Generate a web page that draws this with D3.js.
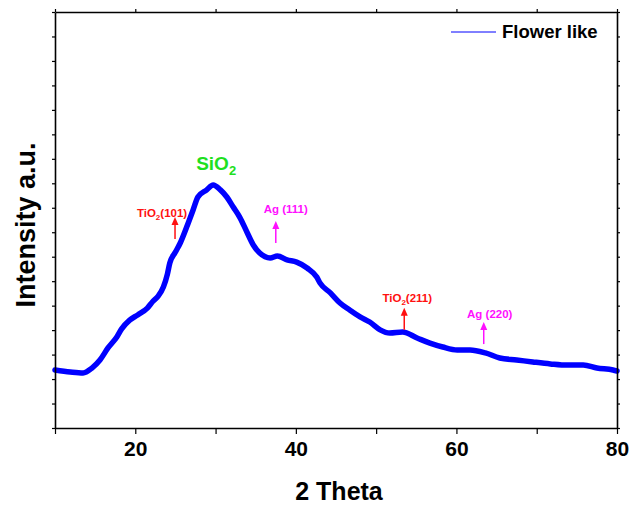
<!DOCTYPE html>
<html>
<head>
<meta charset="utf-8">
<script src="https://cdn.jsdelivr.net/npm/d3@7"></script>
<style>
  body { margin: 0; background: #fff; }
  text { font-family: "Liberation Sans", Arial, sans-serif; font-weight: bold; }
</style>
</head>
<body>
<svg id="chart" width="630" height="506"></svg>
<script>
// 2 theta positions (deg)
var theta = [10.0, 11.9, 13.5, 14.6, 15.6, 16.6, 17.7, 18.3, 19.3, 20.3,
    21.5, 22.2, 22.8, 23.5, 24.0, 24.3, 25.0, 25.6, 26.4, 27.2,
    27.8, 28.9, 29.7, 30.6, 31.4, 32.2, 33.0, 33.9, 34.7, 35.5,
    36.8, 37.7, 38.9, 40.1, 41.4, 42.6, 43.0, 44.3, 45.5, 46.7,
    48.0, 49.2, 50.5, 51.7, 53.3, 55.1, 56.7, 58.3, 60.1, 61.7,
    63.6, 65.4, 67.5, 69.5, 71.7, 73.8, 75.8, 77.5, 79.5, 80.0];

// intensity (a.u.) at each 2 theta
var intensity = [237, 229, 225, 245, 278, 327, 372, 405, 441, 462,
    490, 518, 537, 576, 629, 674, 719, 756, 821, 891,
    944, 973, 993, 973, 944, 903, 862, 801, 748, 715,
    695, 703, 687, 678, 654, 617, 593, 552, 511, 482,
    454, 433, 401, 388, 392, 368, 347, 331, 319, 319,
    307, 286, 278, 270, 262, 257, 257, 245, 237, 233];

// peak markers
var peakNames = ["TiO2(101)", "Ag (111)", "TiO2(211)", "Ag (220)"];
var peakTheta = [24.95, 37.5, 53.5, 63.4];
var peakBase = [772, 756, 401, 343];
var peakPhase = ["TiO2", "Ag", "TiO2", "Ag"];

var xTicks = [10, 20, 30, 40, 50, 60, 70, 80];
var xLabels = [20, 40, 60, 80];

var width = 630, height = 506;
var margin = {top: 12, right: 13, bottom: 78, left: 55};

var svg = d3.select("#chart");

var x = d3.scaleLinear()
    .domain([10, 80])
    .range([margin.left, width - margin.right]);

var y = d3.scaleLinear()
    .domain([0, 1700])
    .range([height - margin.bottom, margin.top]);

var yTicks = d3.range(0, 1701, 100);

var data = theta.map(function (t, i) {
    return {t: t, v: intensity[i]};
});

// the pattern
var line = d3.line()
    .x(function (d) { return x(d.t); })
    .y(function (d) { return y(d.v); })
    .curve(d3.curveMonotoneX);

svg.append("path")
    .datum(data)
    .attr("fill", "none")
    .attr("stroke", "#0000ff")
    .attr("stroke-width", 5.5)
    .attr("stroke-linejoin", "round")
    .attr("stroke-linecap", "round")
    .attr("d", line);

// axes (frame on all four sides)
function styleAxis(g) {
    g.select(".domain").attr("stroke", "#000").attr("stroke-width", 1.6);
    g.selectAll(".tick line").attr("stroke", "#000").attr("stroke-width", 1.2);
}

var gx = svg.append("g")
    .attr("transform", "translate(0," + y(0) + ")")
    .call(d3.axisBottom(x).tickValues(xTicks).tickSize(6).tickSizeOuter(0)
        .tickFormat(function (d) { return xLabels.indexOf(d) >= 0 ? d : ""; }))
    .call(styleAxis);
gx.selectAll(".tick text")
    .attr("fill", "#000")
    .attr("font-size", 21)
    .attr("font-family", "Liberation Sans, Arial, sans-serif")
    .attr("font-weight", "bold")
    .attr("y", 13);

svg.append("g")
    .attr("transform", "translate(0," + y(1700) + ")")
    .call(d3.axisTop(x).tickValues(xTicks).tickSize(3).tickSizeOuter(0).tickFormat(""))
    .call(styleAxis);

svg.append("g")
    .attr("transform", "translate(" + x(10) + ",0)")
    .call(d3.axisLeft(y).tickValues(yTicks).tickSize(3).tickSizeOuter(0).tickFormat(""))
    .call(styleAxis);

svg.append("g")
    .attr("transform", "translate(" + x(80) + ",0)")
    .call(d3.axisRight(y).tickValues(yTicks).tickSize(3).tickSizeOuter(0).tickFormat(""))
    .call(styleAxis);

// axis titles
svg.append("text")
    .attr("x", (x(10) + x(80)) / 2 + 3)
    .attr("y", 500)
    .attr("text-anchor", "middle")
    .attr("font-size", 25)
    .text("2 Theta");

svg.append("text")
    .attr("transform", "translate(35," + 225 + ") rotate(-90)")
    .attr("text-anchor", "middle")
    .attr("font-size", 27)
    .text("Intensity a.u.");

// legend
svg.append("line")
    .attr("x1", 451).attr("x2", 496)
    .attr("y1", 32).attr("y2", 32)
    .attr("stroke", "#0000ff")
    .attr("stroke-width", 1);

svg.append("text")
    .attr("x", 502)
    .attr("y", 38)
    .attr("font-size", 18.5)
    .text("Flower like");

// SiO2 label over the main hump
var sio2 = svg.append("text")
    .attr("x", x(29.7) - 17)
    .attr("y", y(1054))
    .attr("font-size", 19)
    .attr("fill", "#1ee01e");
sio2.append("tspan").text("SiO");
sio2.append("tspan").attr("font-size", 13).attr("dy", 5).text("2");

// peak arrows and labels
var colors = {TiO2: "#ff1010", Ag: "#ff10ff"};
var labelDx = [-13, 10, 3, 6];
var labelDy = [0, -8, -6, -4];
var arrowLen = 22;

peakNames.forEach(function (name, i) {
    var px = x(peakTheta[i]);
    var py = y(peakBase[i]);
    var c = colors[peakPhase[i]];

    svg.append("line")
        .attr("x1", px).attr("x2", px)
        .attr("y1", py).attr("y2", py - arrowLen + 6)
        .attr("stroke", c)
        .attr("stroke-width", 1.5);

    svg.append("path")
        .attr("d", "M" + (px - 3.5) + "," + (py - arrowLen + 8) +
            "L" + px + "," + (py - arrowLen) +
            "L" + (px + 3.5) + "," + (py - arrowLen + 8) + "Z")
        .attr("fill", c);

    var t = svg.append("text")
        .attr("x", px + labelDx[i])
        .attr("y", py - arrowLen + labelDy[i])
        .attr("text-anchor", "middle")
        .attr("font-size", 11.5)
        .attr("fill", c);

    if (name.indexOf("TiO2") === 0) {
        t.append("tspan").text("TiO");
        t.append("tspan").attr("font-size", 8).attr("dy", 3).text("2");
        t.append("tspan").attr("dy", -3).text(name.slice(4));
    } else {
        t.text(name);
    }
});
</script>
</body>
</html>
